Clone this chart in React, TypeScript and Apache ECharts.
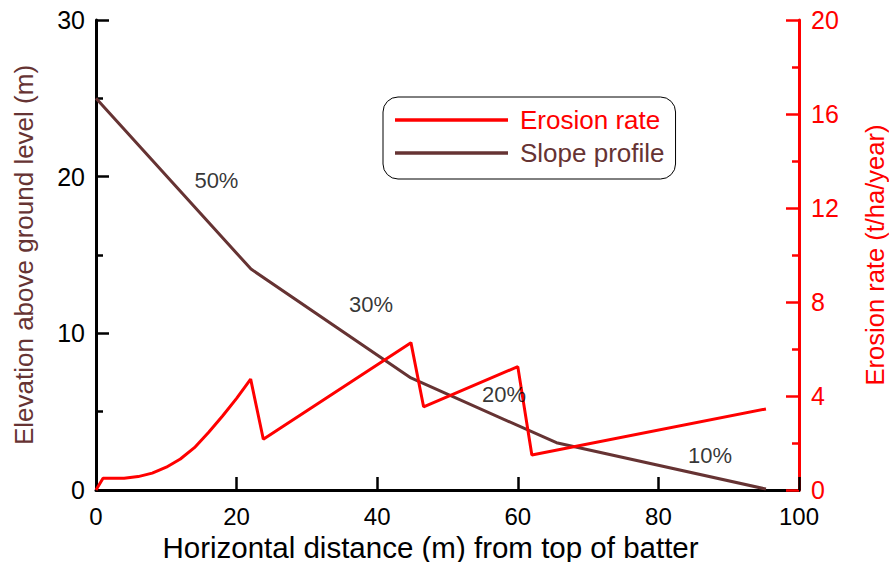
import React, { useEffect, useRef } from "react";
import * as echarts from "echarts";

const FONT = "'Liberation Sans', Arial, sans-serif";
const RED = "#ff0000";
const BROWN = "#663333";

// Horizontal distance (m) / erosion rate (t/ha/year)
const erosionX = [0, 1, 4, 6, 8, 10, 12, 14, 16, 18, 20, 22, 23.8, 44.8, 46.6, 60.0, 62.0, 95.3];
const erosionY = [0, 0.5, 0.5, 0.57, 0.72, 0.97, 1.32, 1.8, 2.45, 3.15, 3.9, 4.72, 2.16, 6.27, 3.54, 5.25, 1.49, 3.45];

// Horizontal distance (m) / elevation (m)
const slopeX = [0, 22.05, 44.8, 65.5, 95.3];
const slopeY = [25, 14.1, 7.15, 3.02, 0.06];

// Gradient annotations
const gradeLabels = ["50%", "30%", "20%", "10%"];
const gradeX = [17.2, 39.2, 58.1, 87.4];
const gradeY = [19.7, 11.8, 6.06, 2.18];

const seriesNames = ["Erosion rate", "Slope profile"];

export default function App() {
  const ref = useRef<HTMLDivElement>(null);
  useEffect(() => {
    document.body.style.margin = "0";
    if (!ref.current) return;
    const chart = echarts.init(ref.current, null, { renderer: "svg" });
    chart.setOption({
      animation: false,
      backgroundColor: "#ffffff",
      textStyle: { fontFamily: FONT },
      grid: { left: 96, right: 90, top: 20, bottom: 72, containLabel: false, outerBoundsMode: "none" },
      legend: {
        orient: "vertical",
        left: 383,
        top: 97,
        padding: [10, 11, 13, 12],
        icon: "rect",
        itemWidth: 113,
        itemHeight: 3.5,
        itemGap: 7,
        borderColor: "#000000",
        borderWidth: 1,
        borderRadius: 15,
        backgroundColor: "#ffffff",
        textStyle: { fontSize: 26, fontFamily: FONT, padding: [0, 0, 0, 7] },
        data: [
          { name: seriesNames[0], textStyle: { color: RED }, itemStyle: { color: RED } },
          { name: seriesNames[1], textStyle: { color: BROWN }, itemStyle: { color: BROWN } },
        ],
      },
      xAxis: {
        type: "value",
        min: 0,
        max: 100,
        interval: 20,
        name: "Horizontal distance (m) from top of batter",
        nameLocation: "middle",
        nameGap: 43,
        nameMoveOverlap: false,
        nameTextStyle: { fontSize: 29.5, lineHeight: 28, color: "#000", fontFamily: FONT, padding: [0, 34, 0, 0] },
        axisLine: { onZero: false, lineStyle: { color: "#000", width: 3 } },
        axisTick: { inside: true, length: 13, lineStyle: { color: "#000", width: 2.5 } },
        axisLabel: { fontSize: 24, lineHeight: 22, color: "#000", margin: 15, fontFamily: FONT },
        splitLine: { show: false },
      },
      yAxis: [
        {
          type: "value",
          position: "left",
          min: 0,
          max: 30,
          interval: 10,
          name: "Elevation above ground level (m)",
          nameLocation: "middle",
          nameRotate: 90,
          nameGap: 59,
          nameMoveOverlap: false,
          nameTextStyle: { fontSize: 26, color: BROWN, fontFamily: FONT },
          axisLine: { show: true, onZero: false, lineStyle: { color: "#000", width: 3 } },
          axisTick: { inside: true, length: 13, lineStyle: { color: "#000", width: 2.5 } },
          minorTick: { show: true, splitNumber: 2, length: 7, lineStyle: { color: "#000", width: 2.5 } },
          axisLabel: { fontSize: 25, color: "#000", margin: 11, fontFamily: FONT },
          splitLine: { show: false },
          minorSplitLine: { show: false },
        },
        {
          type: "value",
          position: "right",
          min: 0,
          max: 20,
          interval: 4,
          name: "Erosion rate (t/ha/year)",
          nameLocation: "middle",
          nameRotate: 90,
          nameGap: 64,
          nameMoveOverlap: false,
          nameTextStyle: { fontSize: 25.5, lineHeight: 24, color: RED, fontFamily: FONT },
          axisLine: { show: true, onZero: false, lineStyle: { color: RED, width: 3 } },
          axisTick: { inside: true, length: 13, lineStyle: { color: RED, width: 2.5 } },
          minorTick: { show: true, splitNumber: 2, length: 7, lineStyle: { color: RED, width: 2.5 } },
          axisLabel: { fontSize: 25, color: RED, margin: 12, fontFamily: FONT },
          splitLine: { show: false },
          minorSplitLine: { show: false },
        },
      ],
      series: [
        {
          name: seriesNames[0],
          type: "line",
          yAxisIndex: 1,
          symbol: "none",
          data: erosionX.map((x, i) => [x, erosionY[i]]),
          lineStyle: { color: RED, width: 3 },
          itemStyle: { color: RED },
          z: 4,
        },
        {
          name: seriesNames[1],
          type: "line",
          yAxisIndex: 0,
          symbol: "none",
          data: slopeX.map((x, i) => [x, slopeY[i]]),
          lineStyle: { color: BROWN, width: 3 },
          itemStyle: { color: BROWN },
          z: 3,
        },
        {
          name: "grades",
          type: "scatter",
          yAxisIndex: 0,
          symbolSize: 1,
          itemStyle: { color: "rgba(255,255,255,0)" },
          data: gradeX.map((x, i) => ({ value: [x, gradeY[i]], name: gradeLabels[i] })),
          label: {
            show: true,
            position: [0, 0],
            align: "center",
            verticalAlign: "middle",
            formatter: (p: any) => p.name,
            fontSize: 22,
            color: "#000000",
            fontFamily: FONT,
          },
          silent: true,
          z: 5,
        },
      ],
    });
    return () => chart.dispose();
  }, []);
  return <div ref={ref} style={{ width: 889, height: 562 }} />;
}
